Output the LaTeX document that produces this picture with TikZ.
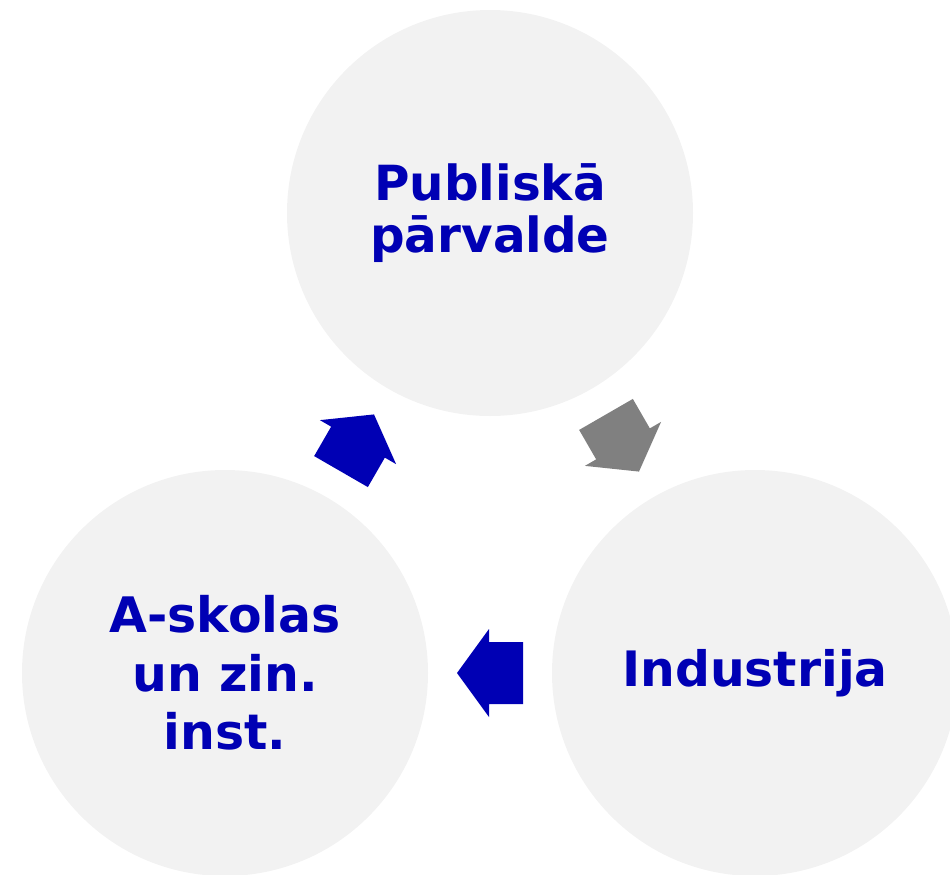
\documentclass[tikz,border=0pt]{standalone}
\usepackage{fontspec}
\setmainfont{DejaVu Sans}
\usetikzlibrary{calc}

\definecolor{circlegray}{RGB}{242,242,242}
\definecolor{labelblue}{RGB}{0,0,180}
\definecolor{arrowgray}{RGB}{128,128,128}

\tikzset{every picture/.style={line width=0.75pt}}
\tikzset{
  sector/.style={circle, fill=circlegray, minimum size=304.5pt, inner sep=0pt, text=labelblue, align=center},
  blockarrow/.pic={\fill (-33,-31) -- (1,-31) -- (1,-44) -- (33,0) -- (1,44) -- (1,31) -- (-33,31) -- cycle ;}
}

\begin{document}
\begin{tikzpicture}[x=0.75pt,y=0.75pt,yscale=-1,xscale=1]
\useasboundingbox (0,0) rectangle (950,875);

%Shape: Circle top
\node [sector, font=\fontsize{36.3}{39}\selectfont\bfseries] (gov) at (490,213) {Publiskā\\pārvalde};
%Shape: Circle left
\node [sector, font=\fontsize{36.7}{43.8}\selectfont\bfseries] (school) at (225,673) {A-skolas\\un zin.\\inst.};
%Shape: Circle right
\node [sector, font=\fontsize{36.6}{43.8}\selectfont\bfseries] (industry) at (755,673) {Industrija};

%Shape: Arrows
\pic [fill=labelblue, rotate=60] at ($(school)!0.5!(gov)$) {blockarrow};
\pic [fill=arrowgray, rotate=-60] at ($(gov)!0.5!(industry)$) {blockarrow};
\pic [fill=labelblue, rotate=180] at ($(industry)!0.5!(school)$) {blockarrow};

\end{tikzpicture}
\end{document}
